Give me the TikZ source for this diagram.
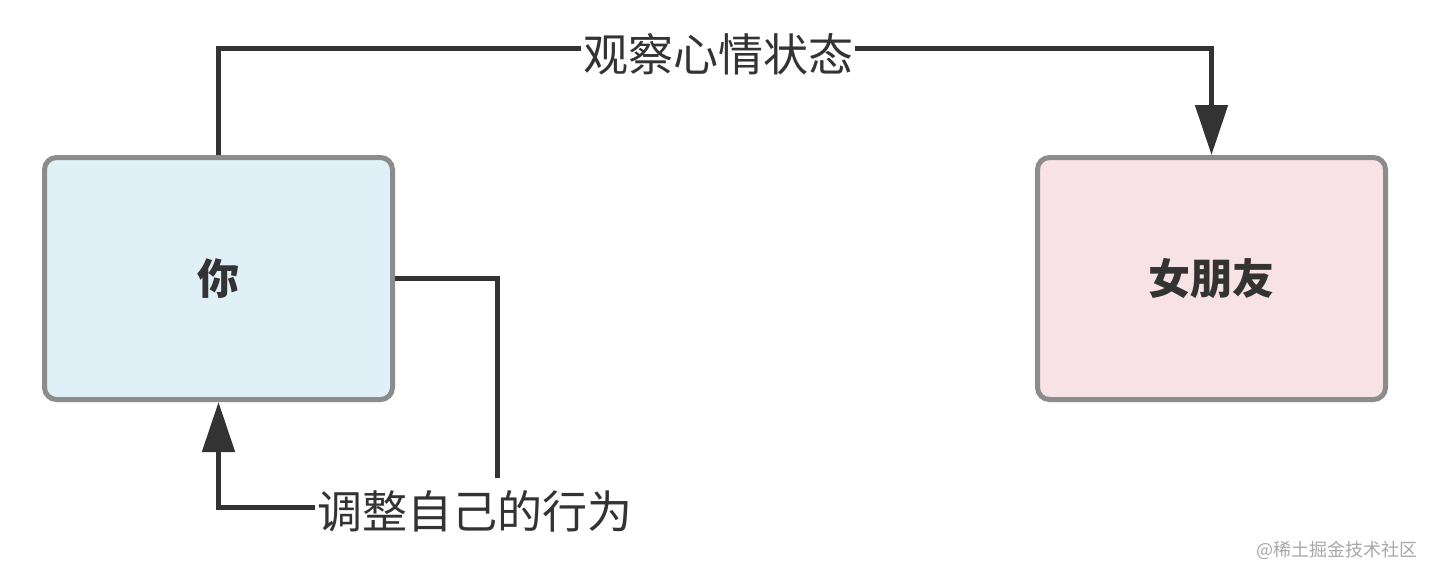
\documentclass[tikz,border=0pt]{standalone}
\usepackage{fontspec}
\usepackage{xcolor}
\usepackage{tikz}
\usetikzlibrary{calc,arrows.meta}
\newfontfamily\cjk{Noto Sans CJK SC}
\definecolor{bg}{HTML}{FFFFFF}
\definecolor{ink}{HTML}{333333}
\definecolor{frame}{HTML}{8C8C8C}
\definecolor{youfill}{HTML}{DFF0F7}
\definecolor{gffill}{HTML}{F7E3E5}
\definecolor{mark}{HTML}{A8A8A8}
\tikzset{
  box/.style={draw=frame, line width=2.5pt, rounded corners=6pt,
    minimum width=174pt, minimum height=121pt, inner sep=0pt,
    font=\cjk\fontsize{21}{21}\selectfont\bfseries, text=ink},
  flow/.style={draw=ink, line width=2.5pt},
  tip/.style={-{Triangle[length=25pt, width=16pt]}},
  edgeLbl/.style={fill=bg, text=ink, inner xsep=1pt, inner ysep=6pt,
    text height=19pt, text depth=3pt, font=\cjk\fontsize{22.5}{22.5}\selectfont},
  markLbl/.style={text=mark, inner sep=0pt, font=\cjk\fontsize{9}{9}\selectfont},
}

\begin{document}
\begin{tikzpicture}[x=0.5pt, y=-0.5pt]
  \useasboundingbox[fill=bg] (0,0) rectangle (1436,580);

  \node[box, fill=youfill] (you) at (218.5,278.5) {你};
  \node[box, fill=gffill]  (gf)  at (1211.5,278.5) {女朋友};

  % Edge labels
  \node[edgeLbl] (obs) at (718,55) {观察心情状态};
  \node[edgeLbl] (adj) at (475,512) {调整自己的行为};

  \draw[flow] (you.north) |- ([yshift=3.5pt]obs.west);
  \draw[flow, tip] ([yshift=3.5pt]obs.east) -| (gf.north);

  \draw[flow] (you.east) -| ($(adj.north)+(22,0)$);
  \draw[flow, tip] ([yshift=2.5pt]adj.west) -| (you.south);

  % Watermark
  \node[markLbl, anchor=east] (wm) at (1418,550) {@稀土掘金技术社区};
\end{tikzpicture}
\end{document}
